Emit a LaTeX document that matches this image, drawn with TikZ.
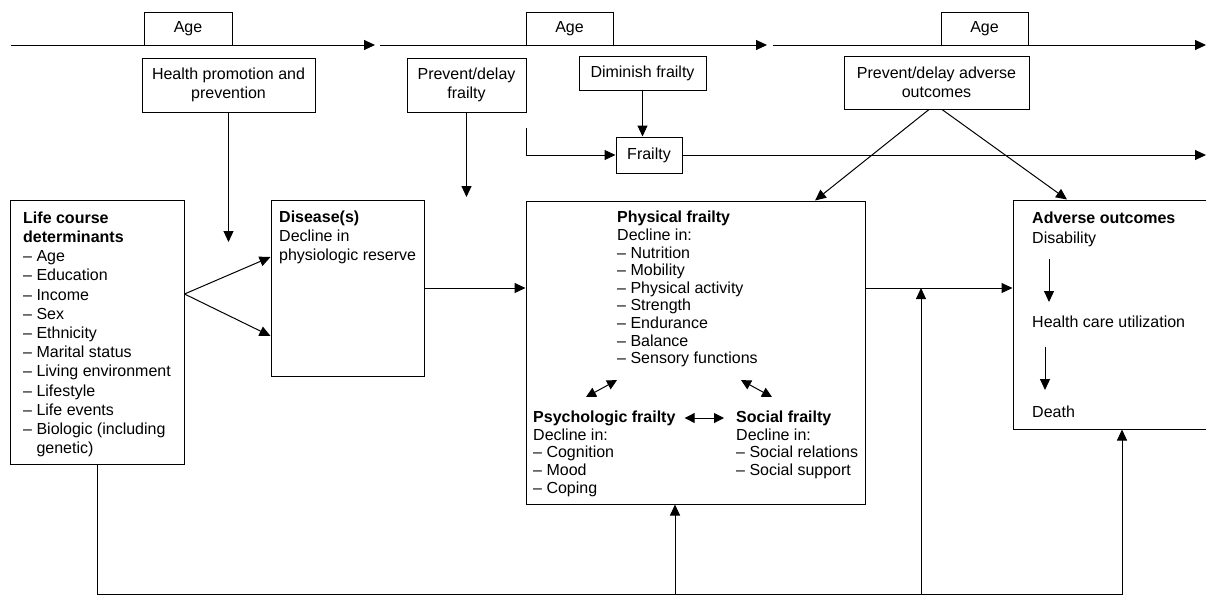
\documentclass[tikz,border=0pt]{standalone}
\usepackage{fontspec}
\setmainfont{Liberation Sans}
\usetikzlibrary{arrows.meta}

\tikzset{
  box/.style={draw, line width=1pt, inner sep=0pt, align=center},
  txt/.style={inner sep=0pt, align=left, anchor=north west},
  arr/.style={-{Triangle[length=11pt,width=10pt]}, line width=1pt},
  darr/.style={{Triangle[length=10pt,width=10pt]}-{Triangle[length=10pt,width=10pt]}, line width=1pt},
}

\begin{document}
\begin{tikzpicture}[x=1pt, y=-1pt, font=\fontsize{16}{19.2}\selectfont]
\useasboundingbox (0,0) rectangle (1206,595);

\begin{scope}[every node/.style={box}]
\node[minimum width=88, minimum height=33] (age1) at (188,28.5) {Age};
\node[minimum width=87, minimum height=33] (age2) at (569.5,28.5) {Age};
\node[minimum width=87, minimum height=33] (age3) at (984.5,28.5) {Age};
\node[minimum width=173, minimum height=54] (health) at (228.5,85) {Health promotion and\\prevention};
\node[minimum width=119, minimum height=54] (prevfr) at (466.5,85) {Prevent/delay\\frailty};
\node[minimum width=127, minimum height=34] (dimin) at (642.5,73) {Diminish frailty};
\node[minimum width=66, minimum height=36] (frailty) at (649,155) {Frailty};
\node[minimum width=185, minimum height=53] (prevad) at (936.5,82.5) {Prevent/delay adverse\\outcomes};
\node[minimum width=174, minimum height=264] (life) at (97,332) {};
\node[minimum width=153, minimum height=176] (disease) at (347.5,288) {};
\node[minimum width=339, minimum height=303] (physical) at (695.5,352.5) {};
\node[minimum width=218, minimum height=229] (adverse) at (1122,314.5) {};
\end{scope}

% texts inside the big boxes
\node[txt] (lifetxt) at (23,211.5) {\textbf{Life course}\\\textbf{determinants}\\– Age\\– Education\\– Income\\– Sex\\– Ethnicity\\– Marital status\\– Living environment\\– Lifestyle\\– Life events\\– Biologic (including\\\hphantom{–\ }genetic)};
\node[txt, font=\fontsize{16}{19}\selectfont] (distxt) at (279,211) {\textbf{Disease(s)}\\Decline in\\physiologic reserve};
\node[txt, font=\fontsize{16}{17.6}\selectfont] (phystxt) at (617,211) {\textbf{Physical frailty}\\Decline in:\\– Nutrition\\– Mobility\\– Physical activity\\– Strength\\– Endurance\\– Balance\\– Sensory functions};
\node[txt, font=\fontsize{16}{17.8}\selectfont] (psych) at (533,410.5) {\textbf{Psychologic frailty}\\Decline in:\\– Cognition\\– Mood\\– Coping};
\node[txt, font=\fontsize{16}{17.8}\selectfont] (social) at (736,410.5) {\textbf{Social frailty}\\Decline in:\\– Social relations\\– Social support};
\node[txt, font=\fontsize{16}{20}\selectfont] (advtxt) at (1032,211.5) {\textbf{Adverse outcomes}\\Disability};
\node[txt] (hcu) at (1032,315.5) {Health care utilization};
\node[txt] (death) at (1032,405.5) {Death};

% age lines
\coordinate (t1s) at (11,45);
\coordinate (t1e) at (375,45);
\coordinate (t2s) at (380,45);
\coordinate (t2e) at (767,45);
\coordinate (t3s) at (773,45);
\coordinate (t3e) at (1206,45);
\path[arr]
  (t1s) edge (t1e)
  (t2s) edge (t2e)
  (t3s) edge (t3e);

% interventions
\coordinate (hp) at (228.5,242);
\coordinate (pf) at (466.5,197);
\coordinate (fr0) at (526,128);
\path[arr]
  (health.south) edge (hp)
  (prevfr.south) edge (pf)
  (dimin.south) edge (dimin.south |- frailty.north)
  ([xshift=-7.5pt]prevad.south) edge ([xshift=119.5pt]physical.north)
  ([xshift=5.5pt]prevad.south) edge ([xshift=-55pt]adverse.north);
\draw[arr] (fr0) |- (frailty.west);
\draw[arr] (frailty.east) -- (frailty.east -| t3e);

% main chain
\coordinate (pa) at ([yshift=64.5pt]physical.east);
\path[arr]
  ([yshift=38pt]life.east) edge ([yshift=31pt]disease.west)
  ([yshift=38pt]life.east) edge ([yshift=-48pt]disease.west)
  (disease.east) edge (disease.east -| physical.west)
  (pa) edge (pa -| adverse.west);

% inside physical frailty
\path[darr]
  ([shift={(53,-13.5)}]psych.north west) edge ([shift={(0,13)}]phystxt.south west)
  ([shift={(124,13)}]phystxt.south west) edge ([shift={(36,-13.5)}]social.north west)
  ([shift={(9,7.5)}]psych.north east) edge ([shift={(-12,7.5)}]social.north west);

% inside adverse outcomes
\path[arr]
  ([shift={(17,12)}]advtxt.south west) edge ([shift={(17,-13.5)}]hcu.north west)
  ([shift={(13,19)}]hcu.south west) edge ([shift={(13,-15.5)}]death.north west);

% feedback from life course determinants
\coordinate (fb) at (97,594);
\coordinate (fb1) at (675,594);
\coordinate (fb2) at (921,594);
\draw[arr] (life.south) -- (fb) -| (adverse.south);
\path[arr]
  (fb1) edge (fb1 |- physical.south)
  (fb2) edge (fb2 |- pa);
\end{tikzpicture}
\end{document}
